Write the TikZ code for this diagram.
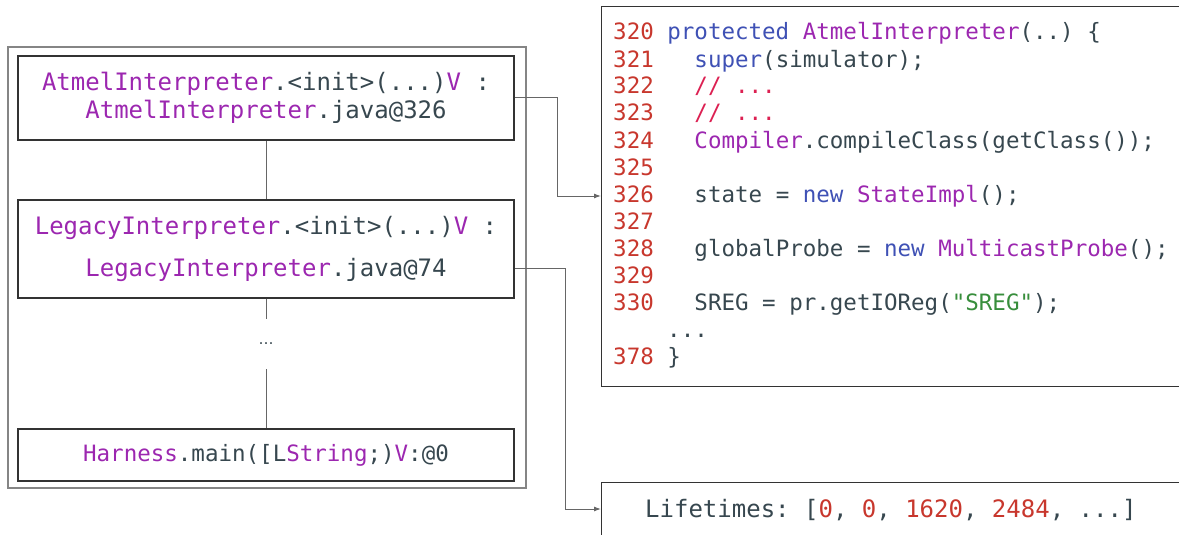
\documentclass[tikz,border=0pt]{standalone}
\usepackage{fontspec}
\setmonofont{DejaVu Sans Mono}
\setsansfont{DejaVu Sans}
\usetikzlibrary{arrows.meta}

\definecolor{txdark}{HTML}{37474F}
\definecolor{fnpurple}{HTML}{9C27B0}
\definecolor{kwblue}{HTML}{3F51B5}
\definecolor{lnred}{HTML}{C8372D}
\definecolor{cmpink}{HTML}{DC2052}
\definecolor{strgreen}{HTML}{388E3C}
\definecolor{frameline}{HTML}{333333}
\definecolor{groupline}{HTML}{858585}
\definecolor{linkline}{HTML}{666666}

% syntax colouring helpers
\newcommand\cPu[1]{\textcolor{fnpurple}{#1}}
\newcommand\cKw[1]{\textcolor{kwblue}{#1}}
\newcommand\cLn[1]{\textcolor{lnred}{#1}}
\newcommand\cCm[1]{\textcolor{cmpink}{#1}}
\newcommand\cSt[1]{\textcolor{strgreen}{#1}}

\tikzset{
  framebox/.style={draw=frameline, line width=1.3pt, rectangle, inner sep=0pt,
    minimum width=496pt, align=center, text=txdark,
    font=\ttfamily\fontsize{24}{28}\selectfont},
  smallframe/.style={framebox, font=\ttfamily\fontsize{22.5}{27}\selectfont},
  groupbox/.style={draw=groupline, line width=1.4pt},
  link/.style={draw=linkline, line width=1pt},
  flow/.style={draw=linkline, line width=1pt, -{Latex[length=7pt,width=5pt]}},
  gapdots/.style={inner sep=0pt, minimum height=50pt, text=txdark,
    font=\sffamily\fontsize{15}{18}\selectfont},
  panel/.style={draw=frameline, line width=1.3pt, rectangle, inner sep=0pt,
    anchor=north west, minimum width=620pt},
  codeline/.style={anchor=base west, inner sep=0pt, text=txdark,
    font=\ttfamily\fontsize{22.5}{27}\selectfont},
  lifeline/.style={anchor=base west, inner sep=0pt, text=txdark,
    font=\ttfamily\fontsize{24}{28}\selectfont},
}

\begin{document}
\begin{tikzpicture}[x=1pt, y=-1pt]
  \useasboundingbox (0,0) rectangle (1179,535);
  \fill[white] (0,0) rectangle (1179,535);
  \clip (0,0) rectangle (1179,535);

  % call stack group
  \draw[groupbox] (8,47) rectangle (526,488);

  \node[framebox, minimum height=84pt] (atmel) at (266,98)
    {\cPu{AtmelInterpreter}.<init>(...)\cPu{V} :\\
     \cPu{AtmelInterpreter}.java@326};
  \node[framebox, minimum height=98pt] (legacy) at (266,249)
    {\cPu{LegacyInterpreter}.<init>(...)\cPu{V} :\\[14pt]
     \cPu{LegacyInterpreter}.java@74};
  \node[gapdots] (gap) at (266,344) {\ldots};
  \node[smallframe, minimum height=52pt] (harness) at (266,455)
    {\cPu{Harness}.main([L\cPu{String};)\cPu{V}:@0};

  \draw[link] (atmel.south) -- (legacy.north);
  \draw[link] (legacy.south) -- (gap.north);
  \draw[link] (gap.south) -- (harness.north);

  % source listing
  \node[panel, minimum height=380pt] (code) at (601,6) {};
  \node[codeline] (c320) at (613,40)  {\cLn{320} \cKw{protected} \cPu{AtmelInterpreter}(..) \{};
  \node[codeline] (c321) at (613,67)  {\cLn{321}\ \ \ \cKw{super}(simulator);};
  \node[codeline] (c322) at (613,94)  {\cLn{322}\ \ \ \cCm{// ...}};
  \node[codeline] (c323) at (613,121) {\cLn{323}\ \ \ \cCm{// ...}};
  \node[codeline] (c324) at (613,148) {\cLn{324}\ \ \ \cPu{Compiler}.compileClass(getClass());};
  \node[codeline] (c325) at (613,175) {\cLn{325}};
  \node[codeline] (c326) at (613,202) {\cLn{326}\ \ \ state = \cKw{new} \cPu{StateImpl}();};
  \node[codeline] (c327) at (613,229) {\cLn{327}};
  \node[codeline] (c328) at (613,256) {\cLn{328}\ \ \ globalProbe = \cKw{new} \cPu{MulticastProbe}();};
  \node[codeline] (c329) at (613,283) {\cLn{329}};
  \node[codeline] (c330) at (613,310) {\cLn{330}\ \ \ SREG = pr.getIOReg(\cSt{"SREG"});};
  \node[codeline] (cdots) at (667,337) {...};
  \node[codeline] (c378) at (613,364) {\cLn{378} \}};

  % lifetimes panel
  \node[panel, minimum height=80pt] (life) at (601,482) {};
  \node[lifeline] (lifetxt) at (645,517)
    {Lifetimes: [\cLn{0}, \cLn{0}, \cLn{1620}, \cLn{2484}, ...]};

  % frame-to-source connectors
  \draw[flow] (atmel.east) -- ++(43,0) |- (code.west |- 0,196);
  \draw[flow] (legacy.east |- 0,268) -- ++(51,0) |- (life.west |- 0,509);
\end{tikzpicture}
\end{document}
